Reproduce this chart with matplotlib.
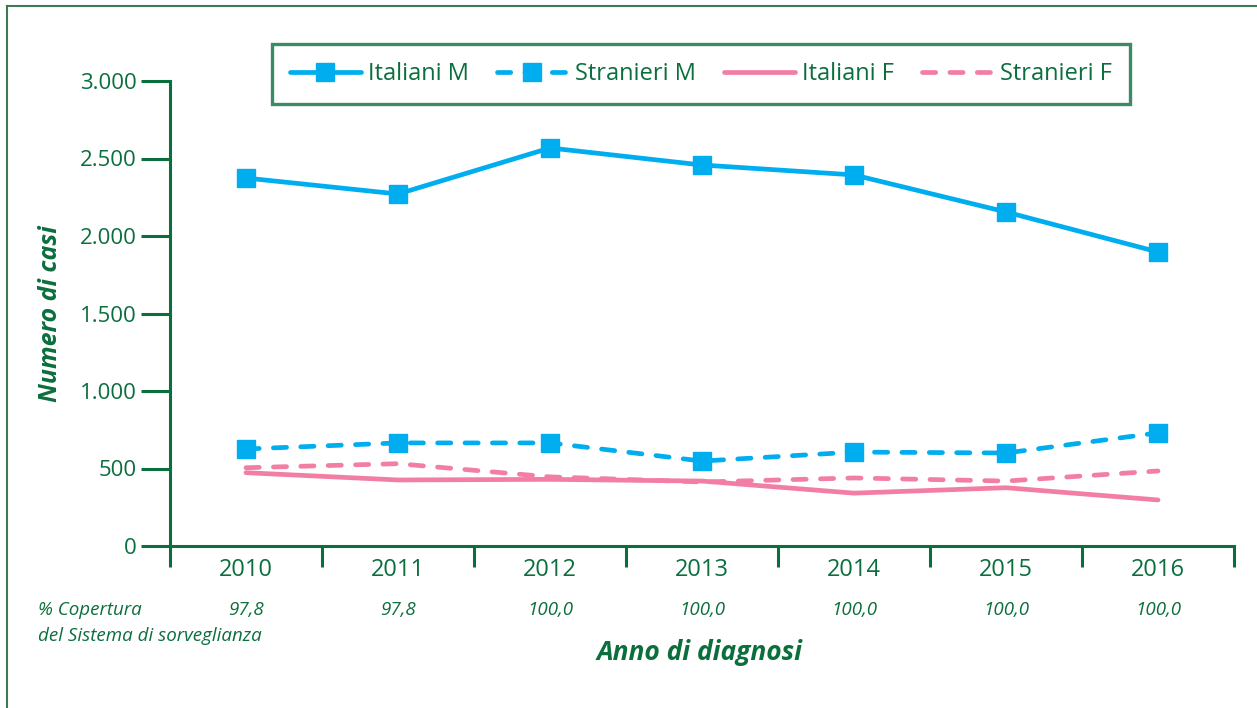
import matplotlib
matplotlib.use("Agg")
import matplotlib.pyplot as plt
from matplotlib.lines import Line2D
from matplotlib.ticker import FuncFormatter
from matplotlib.transforms import blended_transform_factory

# Data
anni = ["2010", "2011", "2012", "2013", "2014", "2015", "2016"]
copertura = ["97,8", "97,8", "100,0", "100,0", "100,0", "100,0", "100,0"]
italiani_m = [2374, 2271, 2568, 2458, 2394, 2155, 1897]
stranieri_m = [626, 665, 665, 548, 606, 600, 730]
italiani_f = [473, 426, 430, 419, 341, 376, 297]
stranieri_f = [505, 531, 446, 413, 439, 419, 484]

BLUE = "#00AEEF"
PINK = "#F27FA3"
GREEN = "#0B6E3D"
FRAME = "#3F7A57"
FONT = "Open Sans"

plt.rcParams["font.family"] = FONT

W, H = 1257, 708
fig = plt.figure(figsize=(W / 100, H / 100), dpi=100)
ax = fig.add_axes([170 / W, 1 - 546 / H, (1234 - 170) / W, (546 - 81) / H])

x = list(range(len(anni)))
dash = (2.8, 3.0)
ax.plot(x, italiani_m, color=BLUE, lw=3.4, marker="s", markersize=12.5,
        label="Italiani M", solid_capstyle="round")
ax.plot(x, stranieri_m, color=BLUE, lw=3.4, marker="s", markersize=12.5,
        linestyle=(0, dash), dash_capstyle="round", label="Stranieri M")
ax.plot(x, italiani_f, color=PINK, lw=3.4, label="Italiani F",
        solid_capstyle="round")
ax.plot(x, stranieri_f, color=PINK, lw=3.4, linestyle=(0, dash),
        dash_capstyle="round", label="Stranieri F")

ax.set_xlim(-0.5, 6.5)
ax.set_ylim(0, 3000)

for s in ["top", "right"]:
    ax.spines[s].set_visible(False)
for s in ["left", "bottom"]:
    ax.spines[s].set_color(GREEN)
    ax.spines[s].set_linewidth(2.2)

ax.set_yticks(range(0, 3001, 500))
ax.yaxis.set_major_formatter(FuncFormatter(lambda v, p: f"{int(v):,}".replace(",", ".")))
ax.tick_params(axis="y", direction="out", length=21, width=2.2, color=GREEN,
               labelcolor=GREEN, labelsize=16, pad=3)

ax.set_xticks(x)
ax.set_xticklabels(anni)
ax.set_xticks([i - 0.5 for i in range(len(anni) + 1)], minor=True)
ax.tick_params(axis="x", which="major", length=0, labelcolor=GREEN,
               labelsize=17, pad=9)
ax.tick_params(axis="x", which="minor", direction="out", length=15,
               width=2.2, color=GREEN)

ax.set_ylabel("Numero di casi", color=GREEN, fontsize=18, fontweight="bold",
              fontstyle="italic", labelpad=12)

# coverage row
row = blended_transform_factory(ax.transData, fig.transFigure)
for i, c in enumerate(copertura):
    ax.text(i, 1 - 610 / H, c, transform=row, fontsize=13.5, color=GREEN,
            fontstyle="italic", ha="center", va="center")
fig.text(38 / W, 1 - 610 / H, "% Copertura", fontsize=13.5, color=GREEN,
         fontstyle="italic", ha="left", va="center")
fig.text(38 / W, 1 - 636 / H, "del Sistema di sorveglianza", fontsize=13.5,
         color=GREEN, fontstyle="italic", ha="left", va="center")
fig.text(700 / W, 1 - 653 / H, "Anno di diagnosi", fontsize=19, color=GREEN,
         fontweight="bold", fontstyle="italic", ha="center", va="center")

leg = fig.legend(loc="center", bbox_to_anchor=(701 / W, 1 - 74 / H), ncol=4,
                 fontsize=17, frameon=True, fancybox=False, handlelength=3.0,
                 handletextpad=0.3, columnspacing=1.2, borderpad=0.75,
                 markerscale=1.0)
leg.get_frame().set_edgecolor(GREEN)
leg.get_frame().set_linewidth(2.4)
for t in leg.get_texts():
    t.set_color(GREEN)

# outer frame (top and left)
fig.add_artist(Line2D([7 / W, 7 / W], [0, 1 - 6 / H], color=FRAME, lw=1.5,
                      transform=fig.transFigure))
fig.add_artist(Line2D([7 / W, 1], [1 - 6 / H, 1 - 6 / H], color=FRAME, lw=1.5,
                      transform=fig.transFigure))

fig.savefig("out.png", dpi=100)
